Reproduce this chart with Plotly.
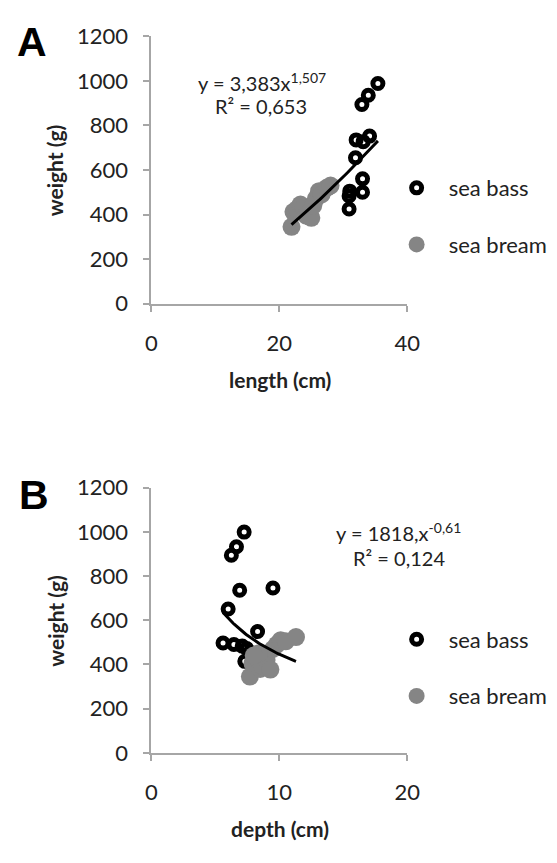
import numpy as np
import plotly.graph_objects as go

# ---- data ----
bass_length = [35.4, 33.9, 32.9, 34.1, 32.0, 33.1, 31.9, 33.0, 33.0, 31.0, 30.9, 30.9]
bass_weight_A = [988, 935, 894, 752, 735, 727, 655, 560, 500, 505, 483, 425]
bream_length = [21.9, 22.2, 22.8, 23.3, 23.8, 24.2, 24.6, 25.0, 25.3, 25.7, 26.2, 26.6, 27.4, 28.0]
bream_weight_A = [345, 412, 425, 445, 430, 395, 410, 385, 440, 470, 505, 490, 520, 530]

bass_depth = [7.25, 6.65, 6.25, 9.5, 6.9, 6.0, 8.3, 5.6, 6.45, 7.1, 7.45, 7.3]
bass_weight_B = [999, 933, 894, 746, 736, 651, 549, 497, 490, 483, 472, 414]
bream_depth = [7.7, 7.9, 8.2, 8.5, 8.7, 9.0, 9.3, 9.5, 8.4, 9.8, 10.1, 10.5, 11.3, 8.0]
bream_weight_B = [345, 405, 430, 380, 392, 420, 377, 470, 450, 490, 509, 505, 524, 440]

fit_A = (3.383, 1.507)
fit_B = (1818, -0.61)

x_ticks_A = [0, 20, 40]
x_ticks_B = [0, 10, 20]
y_ticks = [0, 200, 400, 600, 800, 1000, 1200]

FONT = "Lato"
W, H = 557, 863

def px_x(p):
    return p / W

def px_y(p):
    return 1 - p / H

fig = go.Figure()

def add_panel(xs_bass, ys_bass, xs_bream, ys_bream, fit, xa, ya, legend):
    fig.add_trace(go.Scatter(
        x=xs_bass, y=ys_bass, mode="markers", name="sea bass",
        xaxis=xa, yaxis=ya, legend=legend, legendgroup=legend + "bass",
        marker=dict(symbol="circle-open", size=10, color="black",
                    line=dict(width=5, color="black")),
    ))
    fig.add_trace(go.Scatter(
        x=xs_bream, y=ys_bream, mode="markers", name="sea bream",
        xaxis=xa, yaxis=ya, legend=legend, legendgroup=legend + "bream",
        marker=dict(symbol="circle", size=18, color="#858585"),
    ))
    allx = list(xs_bass) + list(xs_bream)
    xl = np.linspace(min(allx), max(allx), 60)
    yl = fit[0] * xl ** fit[1]
    fig.add_trace(go.Scatter(
        x=xl, y=yl, mode="lines", showlegend=False,
        xaxis=xa, yaxis=ya, line=dict(color="black", width=3),
    ))

add_panel(bass_length, bass_weight_A, bream_length, bream_weight_A, fit_A, "x", "y", "legend")
add_panel(bass_depth, bass_weight_B, bream_depth, bream_weight_B, fit_B, "x2", "y2", "legend2")

axis_common = dict(
    showgrid=False, zeroline=False, showline=True, linecolor="#a6a6a6", linewidth=2,
    ticks="outside", tickcolor="#a6a6a6", tickwidth=2, ticklen=6,
    tickfont=dict(family=FONT, size=22, color="#222222"),
)

xdom = [px_x(150.5), px_x(415.5)]
legend_common = dict(xanchor="left", yanchor="top",
                     font=dict(family=FONT, size=22, color="#222222"), itemwidth=54,
                     tracegroupgap=25, bgcolor="rgba(0,0,0,0)")
fig.update_layout(
    width=W, height=H, margin=dict(l=0, r=0, t=0, b=0),
    paper_bgcolor="white", plot_bgcolor="white",
    font=dict(family=FONT, color="#222222"),
    xaxis=dict(domain=xdom, range=[0, 40], tickvals=x_ticks_A, anchor="y",
               ticklabelstandoff=13, **axis_common),
    yaxis=dict(domain=[px_y(299), px_y(23)], range=[0, 1200], tickvals=y_ticks, anchor="x",
               ticklabelstandoff=11, **axis_common),
    xaxis2=dict(domain=xdom, range=[0, 20], tickvals=x_ticks_B, anchor="y2",
                ticklabelstandoff=13, **axis_common),
    yaxis2=dict(domain=[px_y(762.7), px_y(489)], range=[0, 1200], tickvals=y_ticks, anchor="x2",
                ticklabelstandoff=11, **axis_common),
    legend=dict(x=px_x(392), y=px_y(158), **legend_common),
    legend2=dict(x=px_x(392), y=px_y(624), **legend_common),
)

title_font = dict(family=FONT, size=21, color="#222222")
annotations = [
    dict(text="<b>A</b>", x=px_x(27), y=px_y(29), font=dict(family="Liberation Sans", size=41, color="black")),
    dict(text="<b>B</b>", x=px_x(29), y=px_y(497), font=dict(family="Liberation Sans", size=41, color="black")),
    dict(text="y = 3,383x<sup>1,507</sup>", x=px_x(265), y=px_y(70), font=dict(family=FONT, size=20)),
    dict(text="R² = 0,653", x=px_x(264), y=px_y(95), font=dict(family=FONT, size=20)),
    dict(text="y = 1818,x<sup>-0,61</sup>", x=px_x(406), y=px_y(535), font=dict(family=FONT, size=20)),
    dict(text="R² = 0,124", x=px_x(407), y=px_y(562), font=dict(family=FONT, size=20)),
    dict(text="<b>length (cm)</b>", x=px_x(284), y=px_y(377), font=title_font),
    dict(text="<b>weight (g)</b>", x=px_x(51), y=px_y(161), textangle=-90, font=title_font),
    dict(text="<b>depth (cm)</b>", x=px_x(284), y=px_y(841), font=title_font),
    dict(text="<b>weight (g)</b>", x=px_x(51), y=px_y(626), textangle=-90, font=title_font),
]
for a in annotations:
    a.update(xref="paper", yref="paper", showarrow=False, xanchor="center", yanchor="middle")
fig.update_layout(annotations=annotations)

fig.write_html("out.html", config={"displayModeBar": False},
               post_script="document.body.style.margin='0';document.body.style.padding='0';")
